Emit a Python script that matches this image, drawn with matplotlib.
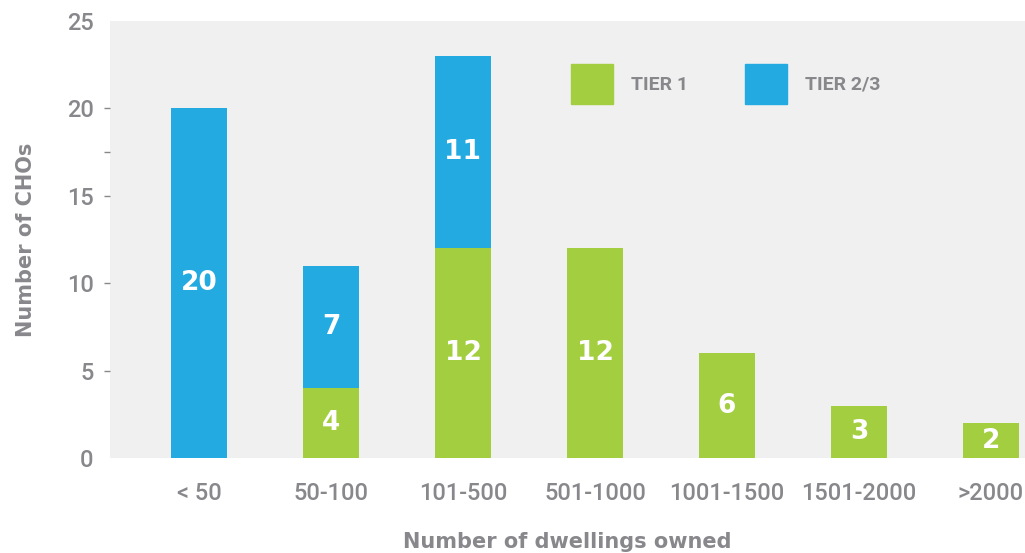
import numpy as np
import matplotlib.pyplot as plt
from matplotlib.patches import Patch

categories = ["< 50", "50-100", "101-500", "501-1000", "1001-1500", "1501-2000", ">2000"]
tier1 = [0, 4, 12, 12, 6, 3, 2]
tier23 = [20, 7, 11, 0, 0, 0, 0]

green = "#a3ce40"
blue = "#23aae1"
grey = "#88888c"
bg = "#f0f0f0"

plt.rcParams['font.family'] = ['Roboto', 'DejaVu Sans']

fig = plt.figure(figsize=(10.25, 5.53), dpi=100)
ax = fig.add_axes([0.1073, 0.1718, 0.8927, 0.7902])
ax.set_facecolor(bg)

x = np.arange(len(categories))
w = 0.42
ax.bar(x, tier1, w, color=green, label="TIER 1")
ax.bar(x, tier23, w, bottom=tier1, color=blue, label="TIER 2/3")

# value labels inside the bars
for i in range(len(categories)):
    if tier1[i]:
        ax.text(x[i], tier1[i] / 2, str(tier1[i]), ha='center', va='center',
                color='white', fontsize=19, fontweight='bold', family='DejaVu Sans')
    if tier23[i]:
        ax.text(x[i], tier1[i] + tier23[i] / 2, str(tier23[i]), ha='center', va='center',
                color='white', fontsize=19, fontweight='bold', family='DejaVu Sans')

ax.set_xlim(-0.674, 6.258)
ax.set_ylim(0, 25)
ax.set_xticks(x)
ax.set_xticklabels(categories)
ax.set_yticks(np.arange(0, 26, 5))
ax.set_yticks([17.5], minor=True)
ax.tick_params(axis='x', length=0, pad=17, labelsize=17, labelcolor=grey)
ax.tick_params(axis='y', which='both', length=4.3, width=1, color=grey, pad=7.5,
               labelsize=17, labelcolor=grey)
# no tick marks at 0 and 25
yt = ax.yaxis.get_major_ticks()
yt[0].tick1line.set_visible(False)
yt[-1].tick1line.set_visible(False)
for lbl in ax.get_xticklabels() + ax.get_yticklabels():
    lbl.set_fontweight('medium')

for s in ax.spines.values():
    s.set_visible(False)

ax.set_xlabel("Number of dwellings owned", fontsize=15, fontweight='bold', color=grey,
              labelpad=20, family='DejaVu Sans')
ax.set_ylabel("Number of CHOs", fontsize=15, fontweight='bold', color=grey,
              labelpad=22, family='DejaVu Sans')

handles = [Patch(color=green, label="TIER 1"), Patch(color=blue, label="TIER 2/3")]
leg = ax.legend(handles=handles, ncol=2, loc='upper left', bbox_to_anchor=(571 / 1025, 1 - 64 / 553),
                bbox_transform=fig.transFigure, borderpad=0, borderaxespad=0,
                frameon=False, handlelength=2.16, handleheight=2.75, handletextpad=0.93,
                columnspacing=2.94, prop={'family': 'Roboto', 'weight': 'bold', 'size': 14},
                labelcolor=grey)

plt.savefig("out.png", dpi=100)
